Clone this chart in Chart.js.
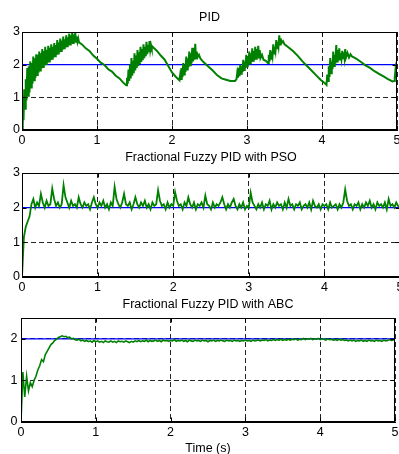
<!DOCTYPE html>
<html>
<head>
<meta charset="utf-8">
<script src="https://cdn.jsdelivr.net/npm/chart.js@4.4.1/dist/chart.umd.min.js"></script>
<style>
    html, body { margin: 0; padding: 0; background: #fff; overflow: hidden; }
    body { width: 399px; height: 454px; position: relative; }
    canvas { position: absolute; left: 0; }
</style>
</head>
<body>
<canvas id="pidChart" width="399" height="150" style="top:0"></canvas>
<canvas id="psoChart" width="402" height="150" style="top:148px"></canvas>
<canvas id="abcChart" width="399" height="165" style="top:295px"></canvas>
<script>
/* ── Data ── */

const titles = ['PID', 'Fractional Fuzzy PID with PSO', 'Fractional Fuzzy PID with ABC'];
const xLabel = 'Time (s)';
const xTicks = [0, 1, 2, 3, 4, 5];
const yTicksPid = [0, 1, 2, 3];
const yTicksPso = [0, 1, 2, 3];
const yTicksAbc = [0, 1, 2];

// reference: setpoint 2 until t = 5, then back to 0
const reference = [[0, 2], [5, 2], [5, 0]];

// PID response [t, y] - noisy rises sampled every 0.01 s, smooth falls coarser
const pidResponse = [
    [0.00, 0], [0.01, 0.6], [0.02, 0.3], [0.03, 1.25], [0.04, 0.65], [0.05, 1.55], [0.06, 0.9], [0.07, 1.9],
    [0.08, 1.05], [0.09, 1.95], [0.10, 1.15], [0.11, 2.1], [0.12, 1.3], [0.13, 2.05], [0.14, 1.42], [0.15, 2.25],
    [0.16, 1.52], [0.17, 2.2], [0.18, 1.6], [0.19, 2.32], [0.20, 1.68], [0.21, 2.3], [0.22, 1.75], [0.23, 2.4],
    [0.24, 1.82], [0.25, 2.35], [0.26, 1.88], [0.27, 2.48], [0.28, 1.93], [0.29, 2.42], [0.30, 1.98], [0.31, 2.55],
    [0.32, 2.02], [0.33, 2.45], [0.34, 2.06], [0.35, 2.58], [0.36, 2.1], [0.37, 2.52], [0.38, 2.14], [0.39, 2.62],
    [0.40, 2.18], [0.41, 2.55], [0.42, 2.22], [0.43, 2.66], [0.44, 2.26], [0.45, 2.6], [0.46, 2.3], [0.47, 2.75],
    [0.48, 2.34], [0.49, 2.68], [0.50, 2.38], [0.51, 2.8], [0.52, 2.42], [0.53, 2.74], [0.54, 2.46], [0.55, 2.86],
    [0.56, 2.5], [0.57, 2.78], [0.58, 2.53], [0.59, 2.9], [0.60, 2.56], [0.61, 2.84], [0.62, 2.59], [0.63, 2.95],
    [0.64, 2.62], [0.65, 2.9], [0.66, 2.64], [0.67, 3.0], [0.68, 2.66], [0.69, 2.92], [0.70, 2.68], [0.71, 2.98],
    [0.72, 2.7], [0.73, 2.86], [0.74, 2.7], [0.75, 2.8], [0.76, 2.68],
    [0.80, 2.62], [0.85, 2.5], [0.90, 2.42], [0.95, 2.28], [1.00, 2.18], [1.05, 2.06], [1.10, 1.99], [1.15, 1.86],
    [1.20, 1.79], [1.25, 1.66], [1.30, 1.58], [1.35, 1.45], [1.39, 1.37],
    [1.40, 1.6], [1.41, 1.42], [1.42, 1.85], [1.43, 1.5], [1.44, 2.0], [1.45, 1.58], [1.46, 2.2], [1.47, 1.66],
    [1.48, 2.12], [1.49, 1.74], [1.50, 2.35], [1.51, 1.82], [1.52, 2.28], [1.53, 1.9], [1.54, 2.45], [1.55, 1.96],
    [1.56, 2.38], [1.57, 2.02], [1.58, 2.55], [1.59, 2.08], [1.60, 2.48], [1.61, 2.14], [1.62, 2.62], [1.63, 2.2],
    [1.64, 2.55], [1.65, 2.26], [1.66, 2.7], [1.67, 2.32], [1.68, 2.6], [1.69, 2.38], [1.70, 2.72], [1.71, 2.45],
    [1.72, 2.6], [1.73, 2.5], [1.74, 2.55],
    [1.80, 2.42], [1.85, 2.28], [1.90, 2.16], [1.95, 1.96], [2.00, 1.76], [2.05, 1.63], [2.10, 1.52],
    [2.11, 1.7], [2.12, 1.56], [2.13, 1.9], [2.14, 1.62], [2.15, 2.05], [2.16, 1.7], [2.17, 2.0], [2.18, 1.78],
    [2.19, 2.25], [2.20, 1.85], [2.21, 2.2], [2.22, 1.92], [2.23, 2.4], [2.24, 1.98], [2.25, 2.35], [2.26, 2.04],
    [2.27, 2.52], [2.28, 2.1], [2.29, 2.45], [2.30, 2.15], [2.31, 2.64], [2.32, 2.2], [2.33, 2.4], [2.34, 2.22],
    [2.36, 2.3], [2.38, 2.18], [2.42, 2.08],
    [2.48, 1.95], [2.54, 1.83], [2.60, 1.68], [2.66, 1.58], [2.72, 1.54], [2.78, 1.5], [2.84, 1.5],
    [2.86, 1.56], [2.87, 1.75], [2.88, 1.6], [2.89, 1.9], [2.90, 1.65], [2.91, 2.0], [2.92, 1.72], [2.93, 1.95],
    [2.94, 1.78], [2.95, 2.15], [2.96, 1.84], [2.97, 2.1], [2.98, 1.9], [2.99, 2.3], [3.00, 1.95], [3.01, 2.25],
    [3.02, 2.0], [3.03, 2.4], [3.04, 2.04], [3.05, 2.35], [3.06, 2.08], [3.07, 2.5], [3.08, 2.12], [3.09, 2.42],
    [3.10, 2.15], [3.11, 2.55], [3.12, 2.18], [3.13, 2.48], [3.14, 2.2], [3.15, 2.58], [3.16, 2.22], [3.17, 2.45],
    [3.18, 2.2], [3.20, 2.3], [3.22, 2.15], [3.25, 2.12], [3.28, 2.05],
    [3.29, 2.3], [3.30, 2.1], [3.31, 2.45], [3.32, 2.18], [3.33, 2.4], [3.34, 2.26], [3.35, 2.62], [3.36, 2.34],
    [3.37, 2.55], [3.38, 2.42], [3.39, 2.75], [3.40, 2.5], [3.41, 2.7], [3.42, 2.56], [3.43, 2.9], [3.44, 2.62],
    [3.45, 2.8], [3.46, 2.66], [3.48, 2.72], [3.50, 2.62],
    [3.56, 2.52], [3.62, 2.4], [3.68, 2.26], [3.74, 2.1], [3.80, 1.96], [3.86, 1.82], [3.92, 1.68], [3.98, 1.54],
    [4.03, 1.45], [4.06, 1.38],
    [4.07, 1.7], [4.08, 1.5], [4.09, 1.95], [4.10, 1.62], [4.11, 2.2], [4.12, 1.74], [4.13, 2.1], [4.14, 1.86],
    [4.15, 2.4], [4.16, 1.96], [4.17, 2.3], [4.18, 2.04], [4.19, 2.6], [4.20, 2.1], [4.21, 2.45], [4.22, 2.14],
    [4.23, 2.5], [4.24, 2.16], [4.25, 2.35], [4.26, 2.18], [4.27, 2.42], [4.28, 2.2], [4.29, 2.38], [4.30, 2.2],
    [4.31, 2.48], [4.32, 2.22], [4.34, 2.36], [4.36, 2.22], [4.38, 2.32], [4.40, 2.25],
    [4.46, 2.18], [4.52, 2.08], [4.58, 1.98], [4.64, 1.9], [4.70, 1.8], [4.76, 1.72], [4.82, 1.64], [4.88, 1.56],
    [4.94, 1.49], [4.96, 1.5], [4.97, 1.6], [4.98, 1.85], [4.99, 1.7], [5.0, 2.1],
];

// sample step of the fuzzy responses (s)
const DT = 0.025;

// Fractional fuzzy PID with PSO, one value every DT, 8 per row (0.2 s)
const psoResponse = [
    0, 1.15, 1.45, 1.6, 1.75, 2.1, 2.25, 2.0,
    2.15, 2.05, 2.4, 2.15, 2.0, 2.2, 2.05, 2.1,
    2.55, 2.25, 2.05, 2.15, 2.0, 2.1, 2.65, 2.3,
    2.15, 2.0, 2.2, 2.05, 2.1, 2.0, 2.3, 2.1,
    2.0, 2.15, 2.05, 2.1, 1.95, 2.15, 2.3, 2.1,
    2.0, 2.15, 2.05, 2.2, 2.0, 2.1, 1.95, 2.15,
    2.05, 2.6, 2.25, 2.1, 2.0, 2.15, 2.4, 2.1,
    2.05, 2.15, 1.95, 2.1, 2.3, 2.1, 2.0, 2.15,
    2.05, 2.2, 2.0, 2.1, 1.95, 2.15, 2.05, 2.1,
    2.5, 2.2, 2.05, 2.1, 1.95, 2.15, 2.0, 2.1,
    2.05, 2.45, 2.2, 2.05, 2.1, 1.95, 2.15, 2.05,
    2.3, 2.1, 2.0, 2.15, 1.95, 2.1, 2.05, 2.15,
    2.0, 2.35, 2.1, 2.05, 1.95, 2.15, 2.0, 2.1,
    2.05, 2.15, 2.3, 2.1, 1.95, 2.1, 2.0, 2.15,
    2.25, 2.05, 1.95, 2.1, 2.0, 2.15, 1.95, 2.05,
    2.0, 2.43, 2.15, 2.05, 1.95, 2.1, 2.0, 2.15,
    1.95, 2.1, 2.05, 2.2, 1.95, 2.1, 2.0, 2.15,
    2.05, 2.1, 1.95, 2.15, 2.0, 2.25, 2.05, 2.1,
    1.95, 2.1, 2.05, 2.15, 1.95, 2.05, 2.1, 2.0,
    2.15, 1.95, 2.2, 2.05, 2.0, 2.1, 1.95, 2.1,
    2.05, 2.1, 1.95, 2.15, 2.0, 2.05, 2.1, 1.95,
    2.1, 2.0, 2.15, 2.53, 2.2, 2.05, 2.1, 1.95,
    2.1, 2.05, 2.15, 1.95, 2.1, 2.0, 2.15, 2.05,
    2.2, 2.0, 2.1, 1.95, 2.15, 2.05, 2.1, 2.0,
    2.15, 1.95, 2.25, 2.05, 2.1, 2.0, 2.15, 2.05,
    2.0,
];

// Fractional fuzzy PID with ABC, one value every DT, 8 per row (0.2 s)
const abcResponse = [
    0, 1.2, 0.6, 1.1, 0.75, 0.95, 0.85, 1.0,
    1.1, 1.25, 1.35, 1.5, 1.45, 1.62, 1.7, 1.78,
    1.86, 1.9, 1.96, 1.99, 2.03, 2.05, 2.07, 2.05,
    2.06, 2.03, 2.04, 2.0, 2.01, 1.98, 1.97, 1.99,
    1.95, 1.97, 1.94, 1.96, 1.93, 1.95, 1.92, 1.96,
    1.93, 1.95, 1.92, 1.94, 1.91, 1.95, 1.93, 1.92,
    1.95, 1.92, 1.94, 1.91, 1.95, 1.93, 1.94, 1.92,
    1.95, 1.93, 1.91, 1.94, 1.92, 1.95, 1.93, 1.96,
    1.93, 1.95, 1.94, 1.97, 1.93, 1.96, 1.94, 1.95,
    1.97, 1.94, 1.96, 1.93, 1.97, 1.95, 1.96, 1.94,
    1.96, 1.95, 1.98, 1.94, 1.96, 1.95, 1.97, 1.94,
    1.96, 1.93, 1.97, 1.95, 1.94, 1.97, 1.95, 1.96,
    1.94, 1.97, 1.95, 1.96, 1.93, 1.96, 1.95, 1.97,
    1.94, 1.96, 1.95, 1.97, 1.95, 1.94, 1.97, 1.95,
    1.96, 1.94, 1.97, 1.95, 1.96, 1.94, 1.96, 1.95,
    1.97, 1.95, 1.96, 1.94, 1.97, 1.95, 1.96, 1.97,
    1.95, 1.97, 1.96, 1.98, 1.95, 1.97, 1.96, 1.98,
    1.96, 1.98, 1.97, 1.99, 1.96, 1.98, 1.97, 1.99,
    1.97, 1.99, 1.98, 2.0, 1.97, 1.99, 1.98, 2.01,
    1.98, 2.0, 1.99, 2.01, 1.98, 2.0, 1.99, 2.01,
    1.98, 2.0, 1.99, 1.97, 2.0, 1.98, 1.99, 1.97,
    1.98, 1.96, 1.99, 1.97, 1.98, 1.96, 1.97, 1.95,
    1.97, 1.95, 1.97, 1.94, 1.96, 1.95, 1.97, 1.94,
    1.96, 1.94, 1.97, 1.95, 1.96, 1.94, 1.97, 1.95,
    1.96, 1.94, 1.97, 1.95, 1.96, 1.98, 1.96, 1.97,
    1.97,
];

/* ── Style ── */

const FONT   = { family: '"Liberation Sans", Arial, Helvetica, sans-serif', size: 12.5, lineHeight: 1.2 };
const GREEN  = '#008000';
const BLUE   = '#0000ff';
const GRID   = '#262626';

// MATLAB-style box with inward tick marks
const framePlugin = {
    id: 'frame',
    afterDatasetsDraw(chart) {
        const { ctx, chartArea: a, scales: { x, y } } = chart;
        const L = Math.round(a.left) + 0.5, R = Math.round(a.right) - 0.5;
        const T = Math.round(a.top) + 0.5,  B = Math.round(a.bottom) - 0.5;
        ctx.save();
        ctx.strokeStyle = '#000';
        ctx.lineWidth   = 1;
        ctx.strokeRect(L, T, R - L, B - T);
        ctx.beginPath();
        x.ticks.forEach(t => {
            const px = Math.round(x.getPixelForValue(t.value)) + 0.5;
            ctx.moveTo(px, B); ctx.lineTo(px, B - 4);
            ctx.moveTo(px, T); ctx.lineTo(px, T + 4);
        });
        y.ticks.forEach(t => {
            const py = Math.round(y.getPixelForValue(t.value)) + 0.5;
            ctx.moveTo(L, py); ctx.lineTo(L + 4, py);
            ctx.moveTo(R, py); ctx.lineTo(R - 4, py);
        });
        ctx.stroke();
        ctx.restore();
    },
};

function makeChart(id, cfg) {
    const xs = {
        type: 'linear',
        min: 0, max: 5,
        afterBuildTicks: s => { s.ticks = xTicks.map(v => ({ value: v })); },
        // fixed axis band; drop the label overhang so the box keeps its place
        afterFit: s => { s.height = cfg.xHeight; s.paddingLeft = 0; s.paddingRight = 0; },
        ticks: { color: '#000', font: FONT, padding: cfg.xPad, maxRotation: 0 },
        grid:  { color: GRID, lineWidth: 1, drawTicks: false },
        border: { display: true, color: '#000', dash: [5, 3] },
        title: cfg.xTitle
            ? { display: true, text: cfg.xTitle, color: '#000', font: FONT, padding: { top: 0, bottom: 3.5 } }
            : { display: false },
    };
    const ys = {
        type: 'linear',
        min: 0, max: cfg.yMax,
        afterBuildTicks: s => { s.ticks = cfg.yTicks.map(v => ({ value: v })); },
        afterFit: s => { s.width = cfg.left; s.paddingTop = 0; s.paddingBottom = 0; },
        ticks: { color: '#000', font: FONT, padding: cfg.yPad },
        grid:  { color: GRID, lineWidth: 1, drawTicks: false },
        border: { display: true, color: '#000', dash: [5, 3] },
    };

    return new Chart(document.getElementById(id).getContext('2d'), {
        type: 'line',
        data: {
            datasets: [
                {
                    label:       'Output',
                    data:        cfg.response,
                    borderColor: GREEN,
                    borderWidth: cfg.lineWidth,
                    pointRadius: 0,
                    tension:     0,
                },
                {
                    label:       'Reference',
                    data:        reference.map(([x, y]) => ({ x, y })),
                    borderColor: BLUE,
                    borderWidth: 1.2,
                    pointRadius: 0,
                    tension:     0,
                },
            ],
        },
        options: {
            responsive:       false,
            animation:        false,
            devicePixelRatio: 1,
            layout: { autoPadding: false, padding: { left: 0, right: cfg.right, top: 0, bottom: 0 } },
            scales: { x: xs, y: ys },
            plugins: {
                legend:  { display: false },
                tooltip: { enabled: false },
                title: {
                    display:  true,
                    fullSize: false,
                    text:     cfg.title,
                    color:    '#000',
                    font:     { ...FONT, weight: 'normal' },
                    padding:  cfg.titlePad,
                },
            },
        },
        plugins: [framePlugin],
    });
}

makeChart('pidChart', {
    title: titles[0],
    response: pidResponse.map(([x, y]) => ({ x, y })),
    yMax: 3, yTicks: yTicksPid, lineWidth: 2,
    left: 22, right: 2, xHeight: 20, xPad: 3.5, yPad: 2,
    titlePad: { top: 10, bottom: 7 },
});

makeChart('psoChart', {
    title: titles[1],
    response: psoResponse.map((y, i) => ({ x: i * DT, y })),
    yMax: 3, yTicks: yTicksPso, lineWidth: 1.8,
    left: 22, right: 2, xHeight: 21, xPad: 3, yPad: 2,
    titlePad: { top: 2.3, bottom: 7.7 },
});

makeChart('abcChart', {
    title: titles[2],
    response: abcResponse.map((y, i) => ({ x: i * DT, y })),
    yMax: 2.5, yTicks: yTicksAbc, lineWidth: 1.6,
    left: 21, right: 4, xHeight: 38, xPad: 3, yPad: 3.5,
    titlePad: { top: 2.5, bottom: 5.5 },
    xTitle: xLabel,
});
</script>
</body>
</html>
